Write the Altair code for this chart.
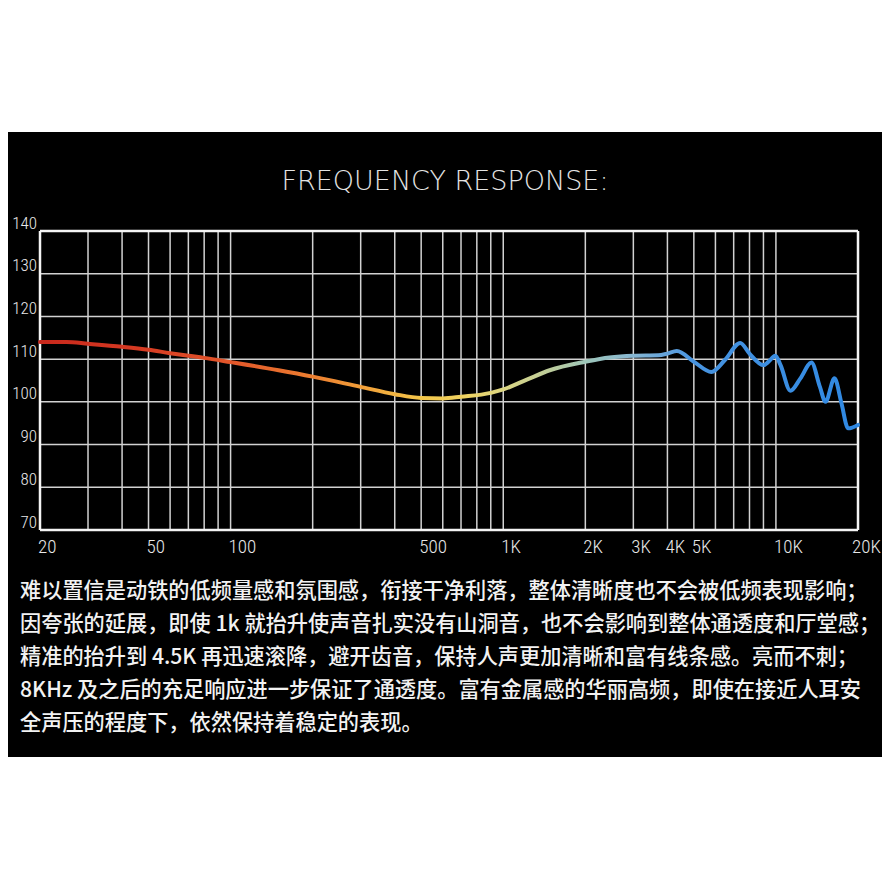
import altair as alt
import pandas as pd

# ---------------- data ----------------
title_text = "FREQUENCY RESPONSE:"

freq_hz = [20, 25, 30, 40, 50, 60, 70, 80, 100, 150, 200, 300, 400, 500, 600, 700,
           900, 1000, 1220, 1480, 2000, 2450, 3000, 3700, 4000, 4330, 5000, 5800,
           6500, 7400, 8000, 9000, 9400, 9950, 10400, 11300, 12300, 13500, 14500,
           15200, 16400, 17400, 18400, 20000]
level_db = [114.0, 114.0, 113.6, 112.9, 112.2, 111.4, 110.8, 110.3, 109.3, 107.4,
            105.9, 103.5, 101.8, 100.9, 100.8, 101.2, 102.1, 102.9, 105.2, 107.4,
            109.4, 110.4, 110.8, 110.9, 111.3, 111.9, 109.4, 107.0, 109.8, 113.8,
            111.3, 108.6, 109.4, 110.8, 108.6, 102.6, 105.5, 109.2, 103.5, 100.0,
            105.5, 99.6, 93.8, 94.6]

grid_freqs = [30, 40, 50, 60, 70, 80, 90, 100, 200, 300, 400, 500, 600, 700, 800,
              900, 1000, 2000, 3000, 4000, 5000, 6000, 7000, 8000, 9000, 10000]
frame_freqs = [20, 20000]
grid_db = [80, 90, 100, 110, 120, 130]
frame_db = [70, 140]

x_label_vals = [20, 50, 100, 500, 1000, 2000, 3000, 4000, 5000, 10000, 20000]
x_label_text = ["20", "50", "100", "500", "1K", "2K", "3K", "4K", "5K", "10K", "20K"]
y_tick_vals = [70, 80, 90, 100, 110, 120, 130, 140]
y_tick_text = ["70", "80", "90", "100", "110", "120", "130", "140"]

paragraph = [
    "难以置信是动铁的低频量感和氛围感，衔接干净利落，整体清晰度也不会被低频表现影响；",
    "因夸张的延展，即使 1k 就抬升使声音扎实没有山洞音，也不会影响到整体通透度和厅堂感；",
    "精准的抬升到 4.5K 再迅速滚降，避开齿音，保持人声更加清晰和富有线条感。亮而不刺；",
    "8KHz 及之后的充足响应进一步保证了通透度。富有金属感的华丽高频，即使在接近人耳安",
    "全声压的程度下，依然保持着稳定的表现。",
]

grad_offsets = [0.0, 0.12, 0.233, 0.333, 0.40, 0.466, 0.52, 0.566, 0.625, 0.666,
                0.725, 0.767, 0.80, 1.0]
grad_colors = ["#c8281c", "#d63a22", "#e2562a", "#ec7e30", "#f1a23a", "#f3c64a",
               "#eed262", "#dcd682", "#bccc9c", "#9ec6b8", "#86b6d2", "#62a2dc",
               "#4894e0", "#2f88e2"]

# ---------------- layout ----------------
W, H = 818, 299
COND = "Roboto Condensed, Liberation Sans Narrow, DejaVu Sans Condensed, sans-serif"

xscale = alt.Scale(type="log", domain=[20, 20000], nice=False)
yscale = alt.Scale(domain=[70, 140], nice=False, zero=False)

one = pd.DataFrame({"k": [0]})

bg = alt.Chart(one).mark_rect(color="#000000").encode(
    x=alt.value(-32), x2=alt.value(842), y=alt.value(-99), y2=alt.value(526)
)

vgrid = alt.Chart(pd.DataFrame({"f": grid_freqs})).mark_rule(
    color="#d2d2d2", strokeWidth=1.5
).encode(x=alt.X("f:Q", scale=xscale, axis=None))

hgrid = alt.Chart(pd.DataFrame({"d": grid_db})).mark_rule(
    color="#d2d2d2", strokeWidth=1.5
).encode(y=alt.Y("d:Q", scale=yscale, axis=None))

vframe = alt.Chart(pd.DataFrame({"f": frame_freqs})).mark_rule(
    color="#f4f4f4", strokeWidth=2.5
).encode(x=alt.X("f:Q", scale=xscale, axis=None))

hframe = alt.Chart(pd.DataFrame({"d": frame_db})).mark_rule(
    color="#f4f4f4", strokeWidth=2.5
).encode(y=alt.Y("d:Q", scale=yscale, axis=None))

gradient = alt.Gradient(
    gradient="linear",
    stops=[alt.GradientStop(color=c, offset=o) for o, c in zip(grad_offsets, grad_colors)],
    x1=0, x2=1, y1=0, y2=0,
)

curve = alt.Chart(pd.DataFrame({"freq": freq_hz, "db": level_db})).mark_line(
    interpolate="monotone", strokeWidth=4, strokeCap="round", color=gradient
).encode(
    x=alt.X("freq:Q", scale=xscale, axis=None),
    y=alt.Y("db:Q", scale=yscale, axis=None),
)

xlab_df = pd.DataFrame({"v": x_label_vals, "t": x_label_text})

xlabels = alt.Chart(xlab_df.iloc[:-1]).mark_text(
    font=COND, fontSize=19, fontWeight=300, color="#e8e8e8",
    align="left", baseline="alphabetic", dx=-2
).encode(
    x=alt.X("v:Q", scale=xscale, axis=None),
    y=alt.value(322),
    text="t:N",
)

xlabel_last = alt.Chart(xlab_df.iloc[-1:]).mark_text(
    font=COND, fontSize=19, fontWeight=300, color="#e8e8e8",
    align="right", baseline="alphabetic", dx=23
).encode(
    x=alt.X("v:Q", scale=xscale, axis=None),
    y=alt.value(322),
    text="t:N",
)

ylabels = alt.Chart(pd.DataFrame({"v": y_tick_vals, "t": y_tick_text})).mark_text(
    font=COND, fontSize=17, fontWeight=300, color="#e8e8e8",
    align="right", baseline="alphabetic", dy=-2.5
).encode(
    y=alt.Y("v:Q", scale=yscale, axis=None),
    x=alt.value(-3),
    text="t:N",
)

title = alt.Chart(one).mark_text(
    font="DejaVu Sans", fontWeight=200, fontSize=27, color="#e4e4e4",
    align="center", baseline="alphabetic"
).encode(x=alt.value(405), y=alt.value(-41.5), text=alt.value(title_text))

para = alt.Chart(one).mark_text(
    font="Noto Sans CJK SC", fontSize=21.2, fontWeight=500, lineHeight=33, color="#f2f2f2",
    align="left", baseline="alphabetic"
).encode(x=alt.value(-20), y=alt.value(367), text=alt.value(paragraph))

chart = alt.layer(bg, vgrid, hgrid, vframe, hframe, curve, xlabels, xlabel_last,
                  ylabels, title, para).properties(
    width=W, height=H,
    autosize=alt.AutoSizeParams(type="none"),
    padding={"left": 32, "top": 223, "right": 24, "bottom": 344},
    background="#ffffff",
).configure_view(stroke="transparent")

chart.save("out.html", embed_options={"renderer": "svg", "actions": False})
